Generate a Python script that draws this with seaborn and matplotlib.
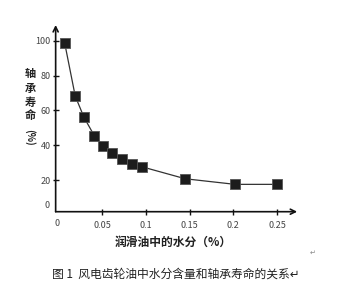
import matplotlib
matplotlib.use("Agg")
import matplotlib.pyplot as plt
import seaborn as sns
import pandas as pd

# data
water = [0.007, 0.019, 0.029, 0.041, 0.051, 0.061, 0.073, 0.084, 0.096, 0.145, 0.202, 0.250]
life = [98.5, 68.2, 56.0, 45.3, 39.7, 35.5, 32.2, 29.4, 27.5, 20.7, 17.5, 17.5]
xticks = [0.05, 0.1, 0.15, 0.2, 0.25]
xticklabels = ["0.05", "0.1", "0.15", "0.2", "0.25"]
yticks = [20, 40, 60, 80, 100]
ylabel_chars = ["轴", "承", "寿", "命"]
xlabel = "润滑油中的水分（%）"
caption = "图 1  风电齿轮油中水分含量和轴承寿命的关系↵"

df = pd.DataFrame({"water": water, "life": life})

sns.set_style("white")
plt.rcParams["font.family"] = ["Noto Sans CJK SC", "DejaVu Sans"]

fig = plt.figure(figsize=(3.5, 2.96), dpi=100)
ax = fig.add_axes([0.159, 0.2848, 0.690, 0.6307])

sns.lineplot(data=df, x="water", y="life", ax=ax, color="#333333", lw=0.9,
             sort=True, zorder=2)
sns.scatterplot(data=df, x="water", y="life", ax=ax, marker="s", s=62,
                color="#1c1c1c", edgecolor="#555555", linewidth=0.6, zorder=3)

ax.set_xlim(-0.0034, 0.273)
ax.set_ylim(1.8, 109)
for s in ax.spines.values():
    s.set_visible(False)

# axes with arrows
ax.annotate("", xy=(1.0, 0), xytext=(0, 0), xycoords="axes fraction",
            arrowprops=dict(arrowstyle="->", lw=1.2, color="#111111",
                            shrinkA=0, shrinkB=0, mutation_scale=9))
ax.annotate("", xy=(0, 1.0), xytext=(0, 0), xycoords="axes fraction",
            arrowprops=dict(arrowstyle="->", lw=1.2, color="#111111",
                            shrinkA=0, shrinkB=0, mutation_scale=9))

ax.set_xticks(xticks)
ax.set_xticklabels(xticklabels)
ax.set_yticks(yticks)
ax.set_yticklabels([str(v) for v in yticks])
ax.tick_params(axis="both", direction="inout", length=5, width=1.0,
               color="#111111", labelsize=6.5, labelcolor="#444444")
ax.tick_params(axis="x", pad=4, bottom=True)
ax.tick_params(axis="y", pad=1, left=True)
ax.set_xlabel("")
ax.set_ylabel("")

# origin labels
fig.text(47 / 350, 1 - 205 / 296, "0", ha="center", va="center",
         fontsize=6.5, color="#444444")
fig.text(57 / 350, 1 - 223 / 296, "0", ha="center", va="center",
         fontsize=6.5, color="#444444")

# y label (vertical, stacked)
for i, ch in enumerate(ylabel_chars):
    fig.text(30 / 350, 1 - (74 + i * 14) / 296, ch, ha="center", va="center",
             fontsize=8, fontweight="bold", color="#222222")
fig.text(30 / 350, 1 - 137 / 296, "(%)", ha="center", va="center",
         fontsize=7, fontweight="bold", color="#222222", rotation=-90)

# x label
fig.text(173 / 350, 1 - 242 / 296, xlabel, ha="center", va="center",
         fontsize=8.5, fontweight="bold", color="#222222")

# caption
fig.text(176 / 350, 1 - 274 / 296, caption, ha="center", va="center",
         fontsize=8.5, color="#222222")
fig.text(313 / 350, 1 - 253 / 296, "↵", ha="center", va="center",
         fontsize=5, color="#888888")

fig.savefig("out.png", dpi=100, facecolor="white")
